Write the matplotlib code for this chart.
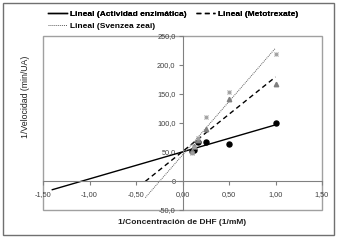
import matplotlib
matplotlib.use('Agg')
import matplotlib.pyplot as plt
import numpy as np
from matplotlib.patches import Rectangle

plt.rcParams['font.family'] = ['Liberation Sans', 'DejaVu Sans']

# 1/[DHF] (1/mM) and 1/v (min/UA)
inv_conc = np.array([0.1, 0.125, 0.167, 0.25, 0.5, 1.0])
actividad = np.array([51, 53, 67, 67, 63, 100])
metotrexate = np.array([52, 60, 70, 90, 141, 167])
svenzea = np.array([48, 58, 75, 111, 153, 219])

legend_labels = ['Lineal (Actividad enzimática)', 'Lineal (Metotrexate)',
                 'Lineal (Svenzea zeai)']
x_ticks = [-1.5, -1.0, -0.5, 0.0, 0.5, 1.0, 1.5]
x_ticklabels = ['-1,50', '-1,00', '-0,50', '0,00', '0,50', '1,00', '1,50']
y_ticks = [-50, 0, 50, 100, 150, 200, 250]
y_ticklabels = ['-50,0', '0', '50,0', '100,0', '150,0', '200,0', '250,0']

W, H = 345, 242
fig = plt.figure(figsize=(W / 100, H / 100), dpi=100)
ax = fig.add_axes([43 / W, 1 - 210 / H, (322 - 43) / W, (210 - 36) / H])

# chart border
fig.add_artist(Rectangle((3 / W, 1 - 235 / H), 331 / W, 232 / H, fill=False,
                         edgecolor='#707070', linewidth=1.0,
                         transform=fig.transFigure))


def trend(x, y, back, fwd=1.0):
    slope, icpt = np.polyfit(x, y, 1)
    xs = np.array([x.min() - back, fwd])
    return xs, slope * xs + icpt


# data markers
ax.plot(inv_conc, actividad, 'o', color='black', ms=3.6, zorder=4)
ax.plot(inv_conc, metotrexate, '^', color='#808080', ms=3.2, zorder=4)
ax.plot(inv_conc, svenzea, 'x', color='#a0a0a0', ms=3, mew=0.8, zorder=4)
ax.plot(inv_conc, svenzea, '+', color='#a0a0a0', ms=3, mew=0.6, zorder=4)

# trend lines
xs, ys = trend(inv_conc, actividad, 1.5)
l1, = ax.plot(xs, ys, color='black', lw=1.0)
xs, ys = trend(inv_conc, metotrexate, 0.5)
l2, = ax.plot(xs, ys, color='black', lw=1.0, dashes=(3.5, 2.5))
xs, ys = trend(inv_conc, svenzea, 0.5)
l3, = ax.plot(xs, ys, color='#606060', lw=0.7, dashes=(1, 1))

ax.set_xlim(-1.5, 1.5)
ax.set_ylim(-50, 250)
ax.set_xticks(x_ticks)
ax.set_xticklabels(x_ticklabels)
ax.set_yticks(y_ticks)
ax.set_yticklabels(y_ticklabels)

for side in ('left', 'bottom'):
    ax.spines[side].set_position(('data', 0))
    ax.spines[side].set_color('#808080')
    ax.spines[side].set_linewidth(0.8)
ax.spines['top'].set_visible(False)
ax.spines['right'].set_visible(False)
ax.add_patch(Rectangle((0, 0), 1, 1, fill=False, edgecolor='#a0a0a0',
                       linewidth=1.0, transform=ax.transAxes, clip_on=False))

ax.tick_params(axis='both', labelsize=5.3, colors='#808080', labelcolor='#404040',
               length=3, width=0.8, direction='out', pad=2)
ax.tick_params(axis='x', pad=4)

fig.text(26 / W, 1 - 97 / H, '1/Velocidad (min/UA)', rotation=90,
         ha='center', va='center', fontsize=6.3, color='#202020')
fig.text(182 / W, 1 - 222 / H, '1/Concentración de DHF (1/mM)',
         ha='center', va='center', fontsize=6.0, fontweight='bold', color='#202020')

leg1 = fig.legend([l1, l2], legend_labels[:2], loc='center left',
                  bbox_to_anchor=(48 / W, 1 - 14 / H), ncol=2, frameon=False,
                  fontsize=6.0, handlelength=2.3, handletextpad=0.3,
                  columnspacing=1.2, borderpad=0, borderaxespad=0)
for t in leg1.get_texts():
    t.set_fontweight('bold')
fig.add_artist(leg1)
leg2 = fig.legend([l3], legend_labels[2:], loc='center left',
                  bbox_to_anchor=(48 / W, 1 - 26 / H), frameon=False,
                  fontsize=6.0, handlelength=2.3, handletextpad=0.3,
                  borderpad=0, borderaxespad=0)
for t in leg2.get_texts():
    t.set_fontweight('bold')

fig.savefig('out.png', dpi=100)
